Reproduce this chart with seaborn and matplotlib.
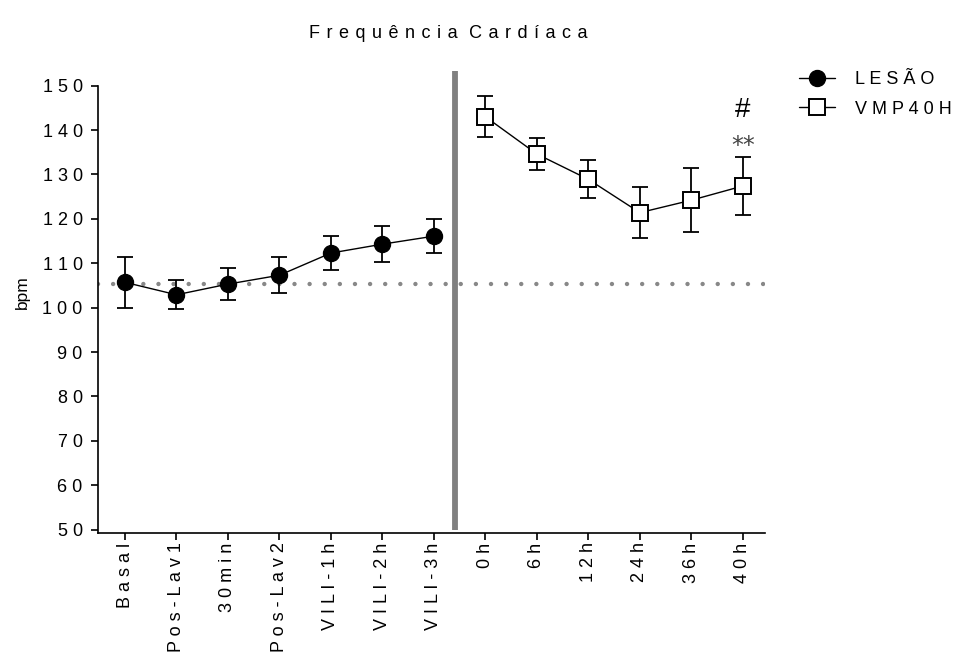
import numpy as np
import pandas as pd
import matplotlib
matplotlib.use("Agg")
import matplotlib.pyplot as plt
from matplotlib.lines import Line2D
import seaborn as sns

# ---- data -------------------------------------------------------------
categories = ["Basal", "Pos-Lav1", "30min", "Pos-Lav2", "VILI-1h", "VILI-2h",
              "VILI-3h", "0h", "6h", "12h", "24h", "36h", "40h"]
lesao_mean = [105.7, 102.9, 105.3, 107.3, 112.3, 114.3, 116.1]
lesao_err = [5.8, 3.25, 3.65, 4.0, 3.9, 4.0, 3.9]
vmp_mean = [143.0, 134.6, 128.9, 121.4, 124.2, 127.4]
vmp_err = [4.65, 3.6, 4.25, 5.7, 7.2, 6.5]
baseline = 105.4
y_ticks = [50, 60, 70, 80, 90, 100, 110, 120, 130, 140, 150]

# ---- style ------------------------------------------------------------
sns.set_theme(style="ticks")
plt.rcParams["font.family"] = ["Liberation Sans", "DejaVu Sans"]
plt.rcParams["text.color"] = "black"
plt.rcParams["axes.labelcolor"] = "black"
plt.rcParams["xtick.color"] = "black"
plt.rcParams["ytick.color"] = "black"

GAP = " "             # letter gap for tick and legend labels
TITLE_GAP = " \u200a"  # slightly wider gap for the title


def spaced(s, gap=GAP):
    """Widen letter spacing by interleaving narrow spaces."""
    words = s.split(" ")
    return (" " + gap).join(gap.join(w) for w in words)


FS = 13

fig = plt.figure(figsize=(9.61, 6.55), dpi=100)
ax = fig.add_axes([0.102, 0.1867, 0.694, 0.6825])

n_les = len(lesao_mean)
df_les = pd.DataFrame({"x": np.arange(n_les), "y": lesao_mean, "e": lesao_err})
df_vmp = pd.DataFrame({"x": np.arange(n_les, n_les + len(vmp_mean)),
                       "y": vmp_mean, "e": vmp_err})

# reference level (basal)
ax.axhline(baseline, color="#888888", lw=3.2, linestyle=(0, (0.001, 3.4)),
           dash_capstyle="round", zorder=1)

# error bars
for d in (df_les, df_vmp):
    ax.errorbar(d["x"], d["y"], yerr=d["e"], fmt="none", ecolor="black",
                elinewidth=1.3, capsize=5.8, capthick=1.3, zorder=2)

# means with connecting lines
sns.lineplot(data=df_les, x="x", y="y", ax=ax, color="black", lw=1.0,
             marker="o", markersize=11.5, markerfacecolor="black",
             markeredgecolor="black", markeredgewidth=1.0, zorder=3)
sns.lineplot(data=df_vmp, x="x", y="y", ax=ax, color="black", lw=1.0,
             marker="s", markersize=12, markerfacecolor="white",
             markeredgecolor="black", markeredgewidth=1.4, zorder=3)

# separator between the two phases
ax.plot([6.41, 6.41], [50, 153.2], color="#808080", lw=4.2,
        solid_capstyle="butt", clip_on=False, zorder=4)

# significance marks at the last time point
top40 = vmp_mean[-1] + vmp_err[-1]
ax.annotate("**", xy=(n_les + len(vmp_mean) - 1, top40), xytext=(0, 8),
            textcoords="offset points", ha="center", va="center",
            fontsize=17, color="#444444", family=["DejaVu Sans"])
ax.annotate("#", xy=(n_les + len(vmp_mean) - 1, top40), xytext=(0, 34),
            textcoords="offset points", ha="center", va="center",
            fontsize=20, color="black")

# axes
ax.set_xlim(-0.524, 12.43)
ax.set_ylim(49.3, 150)
ax.set_yticks(y_ticks)
ax.set_yticklabels([spaced(str(t)) for t in y_ticks], fontsize=FS)
ax.set_xticks(np.arange(len(categories)))
ax.set_xticklabels([spaced(c) for c in categories], rotation=90,
                   fontsize=FS, va="top")
ax.tick_params(axis="x", length=5, width=1.2, pad=2)
ax.tick_params(axis="y", length=5, width=1.2, pad=6)
for side in ("left", "bottom"):
    ax.spines[side].set_linewidth(1.2)
    ax.spines[side].set_color("black")
sns.despine(ax=ax)
ax.set_xlabel("")
ax.set_ylabel("bpm", fontsize=12.5)
ax.yaxis.set_label_coords(-0.102, 0.538)

fig.text(448 / 961, 1 - 33 / 655, spaced("Frequência Cardíaca", TITLE_GAP),
         ha="center", va="center", fontsize=FS)

# legend
handles = [
    Line2D([], [], color="black", lw=1.0, marker="o", markersize=11.5,
           markerfacecolor="black", markeredgecolor="black"),
    Line2D([], [], color="black", lw=1.0, marker="s", markersize=12,
           markerfacecolor="white", markeredgecolor="black",
           markeredgewidth=1.4),
]
fig.legend(handles, [spaced("LESÃO"), spaced("VMP40H")],
           loc="upper left", bbox_to_anchor=(799 / 961, 1 - 71 / 655),
           frameon=False, fontsize=FS, handlelength=2.0, handletextpad=1.1,
           labelspacing=0.7, borderpad=0, borderaxespad=0)

fig.savefig("out.png", dpi=100)
